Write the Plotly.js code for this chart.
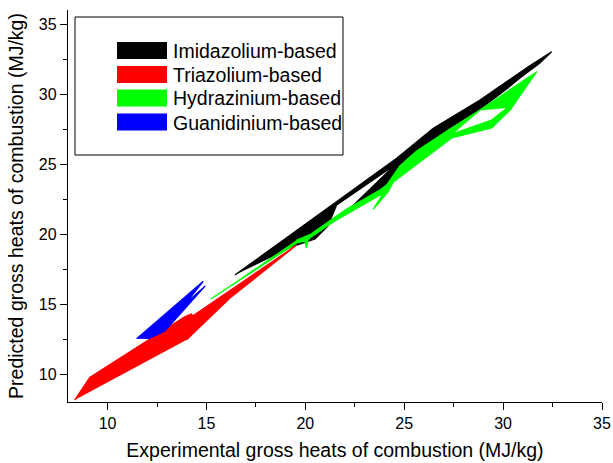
<!DOCTYPE html>
<html>
<head>
<meta charset="utf-8">
<script src="https://cdn.plot.ly/plotly-3.0.1.min.js"></script>
<style>html,body{margin:0;padding:0;background:#fff;}#chart{width:613px;height:463px;}</style>
</head>
<body>
<div id="chart"></div>
<script>
// Series names
const seriesNames = ["Imidazolium-based", "Triazolium-based", "Hydrazinium-based", "Guanidinium-based"];
const seriesColors = ["#000000", "#ff0000", "#00ff00", "#0000ff"];

// Imidazolium-based: experimental (x) vs predicted (y), in path order
const imidX = [16.44, 24.62, 26.47, 28.83, 31.27, 32.45, 31.86, 30.85, 30.24, 28.98, 27.31, 25.63, 24.78, 23.94, 22.09, 24.53, 21.58, 21.14, 20.49, 19.56];
const imidY = [17.07, 25.41, 27.55, 29.57, 31.95, 33.02, 32.21, 31.14, 30.43, 29.07, 27.57, 25.86, 24.79, 22.93, 21.59, 24.93, 22.07, 20.57, 19.64, 19.21];

// Triazolium-based
const triX = [8.34, 9.10, 13.90, 14.23, 14.32, 19.56, 16.19, 13.98];
const triY = [8.14, 9.76, 14.09, 14.29, 14.16, 19.21, 15.43, 12.43];

// Hydrazinium-based
const hydX = [15.21, 19.56, 19.98, 20.06, 20.13, 20.29, 21.41, 23.94, 23.43, 24.19, 24.45, 27.40, 29.42, 30.35, 31.70, 28.83, 30.26, 29.42, 27.40, 28.83, 27.31, 25.63, 24.78, 24.11, 23.77, 22.09, 21.40, 20.29, 19.56];
const hydY = [15.36, 19.36, 19.50, 19.00, 19.57, 19.79, 20.86, 22.91, 21.76, 23.02, 23.71, 26.86, 27.57, 28.86, 31.59, 28.86, 29.07, 28.14, 27.14, 28.86, 27.50, 25.93, 24.86, 23.50, 23.14, 21.79, 21.11, 20.00, 19.57];

// Guanidinium-based
const guanX = [11.47, 14.84, 13.92, 14.94, 12.90, 12.04];
const guanY = [12.52, 16.62, 15.00, 16.29, 13.07, 12.50];

// Axis ticks
const xTicks = [10, 15, 20, 25, 30, 35];
const yTicks = [10, 15, 20, 25, 30, 35];

const allX = [imidX, triX, hydX, guanX];
const allY = [imidY, triY, hydY, guanY];

const FONT = "Liberation Sans, Arial, Helvetica, sans-serif";

const traces = allX.map((xs, i) => ({
  type: "scatter",
  mode: "lines",
  x: xs,
  y: allY[i],
  name: seriesNames[i],
  fill: "toself",
  fillcolor: seriesColors[i],
  line: {color: seriesColors[i], width: 1.3, simplify: false},
  showlegend: false,
  hoverinfo: "skip"
}));

// Manual legend (Origin style box)
const W = 613, H = 463;
const M = {l: 68, r: 11, t: 10, b: 61};
const PW = W - M.l - M.r, PH = H - M.t - M.b;
const px = v => (v - M.l) / PW;
const py = v => (H - M.b - v) / PH;

const shapes = [{
  type: "rect", xref: "paper", yref: "paper",
  x0: px(75), x1: px(343), y0: py(155), y1: py(17),
  line: {color: "#000", width: 1}, fillcolor: "rgba(255,255,255,1)", layer: "below"
}];
const annotations = [];
const rowTop = [42, 66, 89.5, 113.5];
seriesNames.forEach((n, i) => {
  shapes.push({
    type: "rect", xref: "paper", yref: "paper",
    x0: px(117), x1: px(167), y0: py(rowTop[i] + 17), y1: py(rowTop[i]),
    line: {width: 0}, fillcolor: seriesColors[i]
  });
  annotations.push({
    xref: "paper", yref: "paper", x: px(171), y: py(rowTop[i] + 9),
    xanchor: "left", yanchor: "middle", showarrow: false,
    text: n, font: {family: FONT, size: 19.5, color: "#000"}
  });
});

const layout = {
  width: W, height: H,
  margin: M,
  paper_bgcolor: "#fff", plot_bgcolor: "#fff",
  font: {family: FONT, color: "#000"},
  showlegend: false,
  xaxis: {
    range: [8, 35], tickvals: xTicks, ticks: "outside", ticklen: 7, tickwidth: 1, tickcolor: "#000",
    minor: {dtick: 2.5, tick0: 0, ticks: "outside", ticklen: 4, tickcolor: "#000", showgrid: false},
    showline: true, linecolor: "#000", linewidth: 1.2, showgrid: false, zeroline: false,
    tickfont: {family: FONT, size: 16, color: "#000"},
    title: {text: "Experimental gross heats of combustion (MJ/kg)", font: {family: FONT, size: 19.5, color: "#000"}, standoff: 12},
    automargin: false
  },
  yaxis: {
    range: [8, 36], tickvals: yTicks, ticks: "outside", ticklen: 7, tickwidth: 1, tickcolor: "#000",
    minor: {dtick: 2.5, tick0: 0, ticks: "outside", ticklen: 4, tickcolor: "#000", showgrid: false},
    showline: true, linecolor: "#000", linewidth: 1.2, showgrid: false, zeroline: false,
    tickfont: {family: FONT, size: 16, color: "#000"},
    title: {text: "Predicted gross heats of combustion (MJ/kg)", font: {family: FONT, size: 19.5, color: "#000"}, standoff: 10},
    automargin: false
  },
  shapes: shapes,
  annotations: annotations
};

Plotly.newPlot("chart", traces, layout, {staticPlot: true, displayModeBar: false});
</script>
</body>
</html>
